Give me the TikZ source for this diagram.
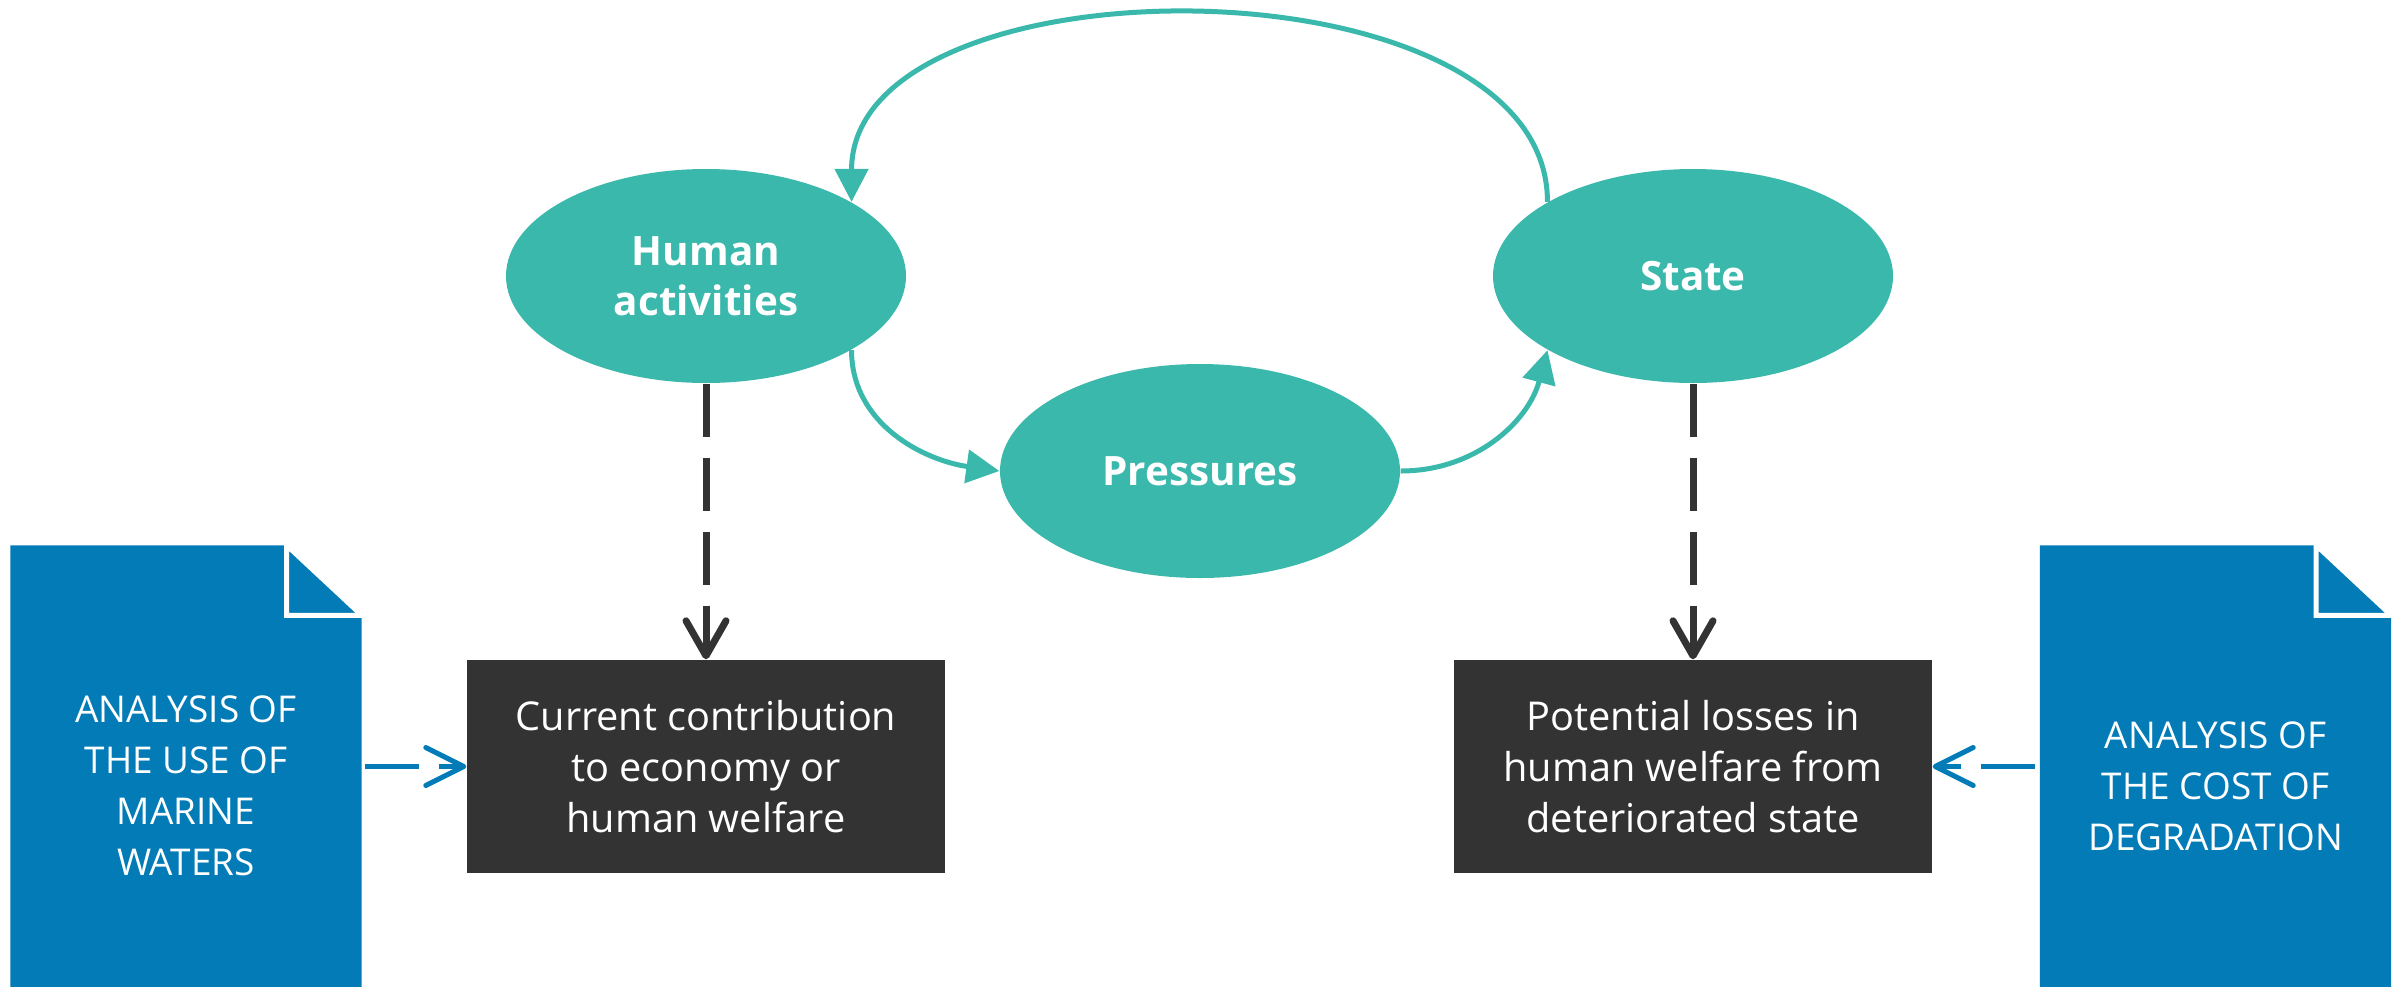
\documentclass[tikz,border=0pt]{standalone}
\usepackage{fontspec}
\setmainfont{Open Sans}
\usetikzlibrary{
	arrows.meta,
	positioning,
	shapes.geometric,
	backgrounds
}
\definecolor{bubbleteal}{HTML}{3BB8AC}
\definecolor{docblue}{HTML}{027BB6}
\definecolor{darkgrey}{HTML}{333333}

\begin{document}
\begin{tikzpicture}[bubble/.style = {ellipse,fill=bubbleteal,text=white,minimum width=4cm,minimum height=2.14cm,inner sep=0pt,align=center,font=\fontsize{11.5}{14.2}\selectfont\bfseries},
result/.style = {rectangle,fill=darkgrey,text=white,minimum width=4.78cm,minimum height=2.13cm,inner sep=0pt,align=center,font=\fontsize{11.3}{14.6}\selectfont},
docsheet/.style = {rectangle,minimum width=3.5cm,minimum height=4.8cm,inner sep=0pt,text=white,align=center,font=\fontsize{10.5}{14.5}\selectfont},
flow/.style = {bubbleteal,line width=0.05cm,-{Triangle[length=0.33cm,width=0.33cm]}},
dlink/.style = {darkgrey,line width=0.07cm,dash pattern=on 0.53cm off 0.21cm,-{Straight Barb[length=0.35cm,width=0.40cm,round]}},
feed/.style = {docblue,line width=0.05cm,dash pattern=on 0.54cm off 0.20cm,-{Straight Barb[length=0.38cm,width=0.38cm,round]}},
]
\useasboundingbox (0,0) rectangle (24.02,9.86);

\node (act)[bubble] at (7.06,7.10)    {Human\\activities};
\node (prs)[bubble] at (12.00,5.15)   {Pressures};
\node (sta)[bubble] at (16.93,7.10)   {State};

\node (contr)[result] at (7.06,2.195)  {Current contribution\\to economy or\\human welfare};
\node (loss)[result]  at (16.93,2.195) {Potential losses in\\human welfare from\\deteriorated state};

\node (usedoc)[docsheet]  at (1.86,2.00)   {ANALYSIS OF\\THE USE OF\\MARINE\\WATERS};
\node (costdoc)[docsheet] at (22.155,2.00) {ANALYSIS OF\\THE COST OF\\DEGRADATION};

\begin{scope}[on background layer]
\foreach \d in {usedoc,costdoc}{
  \fill[docblue] (\d.south west) -- (\d.north west) -- ([xshift=-0.75cm]\d.north east) -- ([yshift=-0.70cm]\d.north east) -- (\d.south east) -- cycle;
  \filldraw[fill=docblue,draw=white,line width=0.05cm] ([xshift=-0.75cm]\d.north east) -- ([xshift=-0.75cm,yshift=-0.70cm]\d.north east) -- ([yshift=-0.70cm]\d.north east) -- cycle;
}
\end{scope}

\draw[flow] (act.-27) to[out=-90,in=172] (prs.west);
\draw[flow] (prs.east) to[out=0,in=-105] (sta.207);
\draw[flow] (sta.153) .. controls +(0,2.49) and +(0,2.49) .. (act.27);

\draw[dlink] (act.south) -- (contr.north);
\draw[dlink] (sta.south) -- (loss.north);

\draw[feed,shorten <=0.03cm] (usedoc.east |- contr.west) -- (contr.west);
\draw[feed,shorten <=0.05cm] (costdoc.west |- loss.east) -- (loss.east);
\end{tikzpicture}
\end{document}
